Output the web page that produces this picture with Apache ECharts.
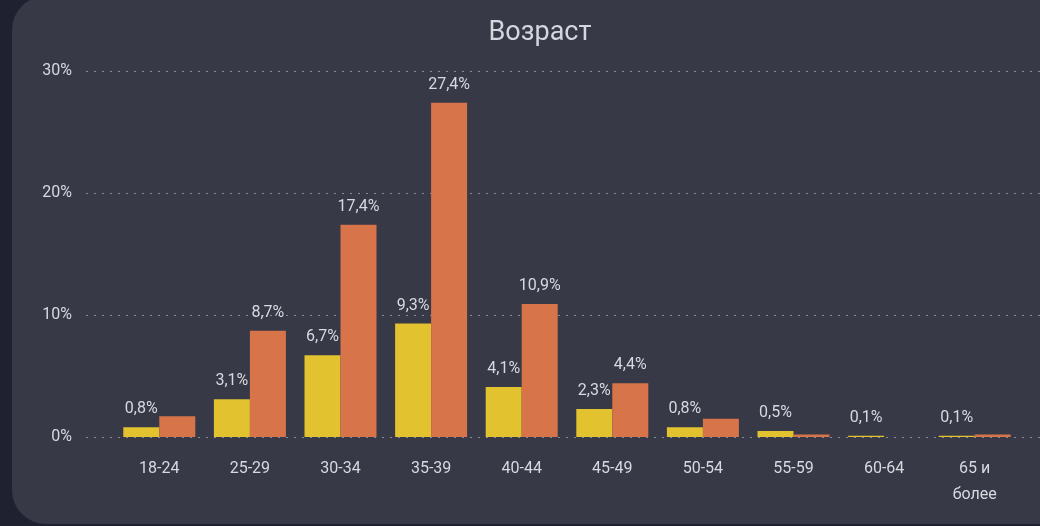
<!DOCTYPE html>
<html>
<head>
<meta charset="utf-8">
<script src="https://cdn.jsdelivr.net/npm/echarts@6/dist/echarts.min.js"></script>
<style>
    html, body { margin: 0; padding: 0; background: #1f2131; overflow: hidden; }
    #card {
        position: absolute; left: 12px; top: -4px; width: 1060px; height: 528px;
        background: #373947; border-radius: 34px;
    }
    #main { position: absolute; left: -12px; top: 4px; width: 1040px; height: 526px; }
</style>
</head>
<body>
<div id="card"><div id="main"></div></div>
<script type="text/javascript">
    // данные графика
    var categories = ['18-24', '25-29', '30-34', '35-39', '40-44', '45-49', '50-54', '55-59', '60-64', '65 и\nболее'];
    var yellowValues = [0.8, 3.1, 6.7, 9.3, 4.1, 2.3, 0.8, 0.5, 0.1, 0.1];
    var orangeValues = [1.7, 8.7, 17.4, 27.4, 10.9, 4.4, 1.5, 0.2, 0, 0.2];
    var orangeLabeled = [false, true, true, true, true, true, false, false, false, false];
    var yTicks = [0, 10, 20, 30];

    var textColor = '#d8d9e0';
    var fmt = function (v) { return String(v).replace('.', ',') + '%'; };

    var myChart = echarts.init(document.getElementById('main'));
    myChart.setOption({
        animation: false,
        title: {
            text: 'Возраст', left: 535, textAlign: 'center', top: 15,
            textStyle: { color: '#d6d7de', fontSize: 27, fontWeight: 'normal', fontFamily: 'Roboto' }
        },
        grid: [
            { left: 86, right: 0, top: 71, bottom: 89 },
            { left: 114, right: 20, top: 71, bottom: 89 }
        ],
        xAxis: [
            { type: 'category', gridIndex: 0, show: false, data: categories },
            {
                type: 'category', gridIndex: 1, data: categories,
                axisLine: { show: false }, axisTick: { show: false },
                axisLabel: { color: textColor, fontSize: 16, margin: 19, lineHeight: 26, fontFamily: 'Roboto' }
            }
        ],
        yAxis: [
            {
                type: 'value', gridIndex: 0, min: 0, max: 30, interval: 10,
                axisLabel: {
                    color: textColor, fontSize: 16, margin: 14, fontFamily: 'Roboto',
                    formatter: function (v) { return yTicks.indexOf(v) >= 0 ? v + '%' : ''; }
                },
                splitLine: { lineStyle: { color: '#8a8c99', type: [2, 6], width: 1 } }
            },
            { type: 'value', gridIndex: 1, min: 0, max: 30, interval: 10, show: false, splitLine: { show: false } }
        ],
        series: [
            {
                name: 'yellow', type: 'bar', xAxisIndex: 1, yAxisIndex: 1,
                data: yellowValues, barWidth: 36, barGap: '0%',
                itemStyle: { color: '#e2c22e' },
                label: {
                    show: true, position: 'top', distance: 10, color: textColor, fontSize: 16, fontFamily: 'Roboto',
                    formatter: function (p) { return fmt(p.value); }
                }
            },
            {
                name: 'orange', type: 'bar', xAxisIndex: 1, yAxisIndex: 1,
                data: orangeValues, barWidth: 36, barGap: '0%',
                itemStyle: { color: '#d7744a' },
                label: {
                    show: true, position: 'top', distance: 10, color: textColor, fontSize: 16, fontFamily: 'Roboto',
                    formatter: function (p) { return orangeLabeled[p.dataIndex] ? fmt(p.value) : ''; }
                }
            }
        ]
    });
</script>
</body>
</html>
